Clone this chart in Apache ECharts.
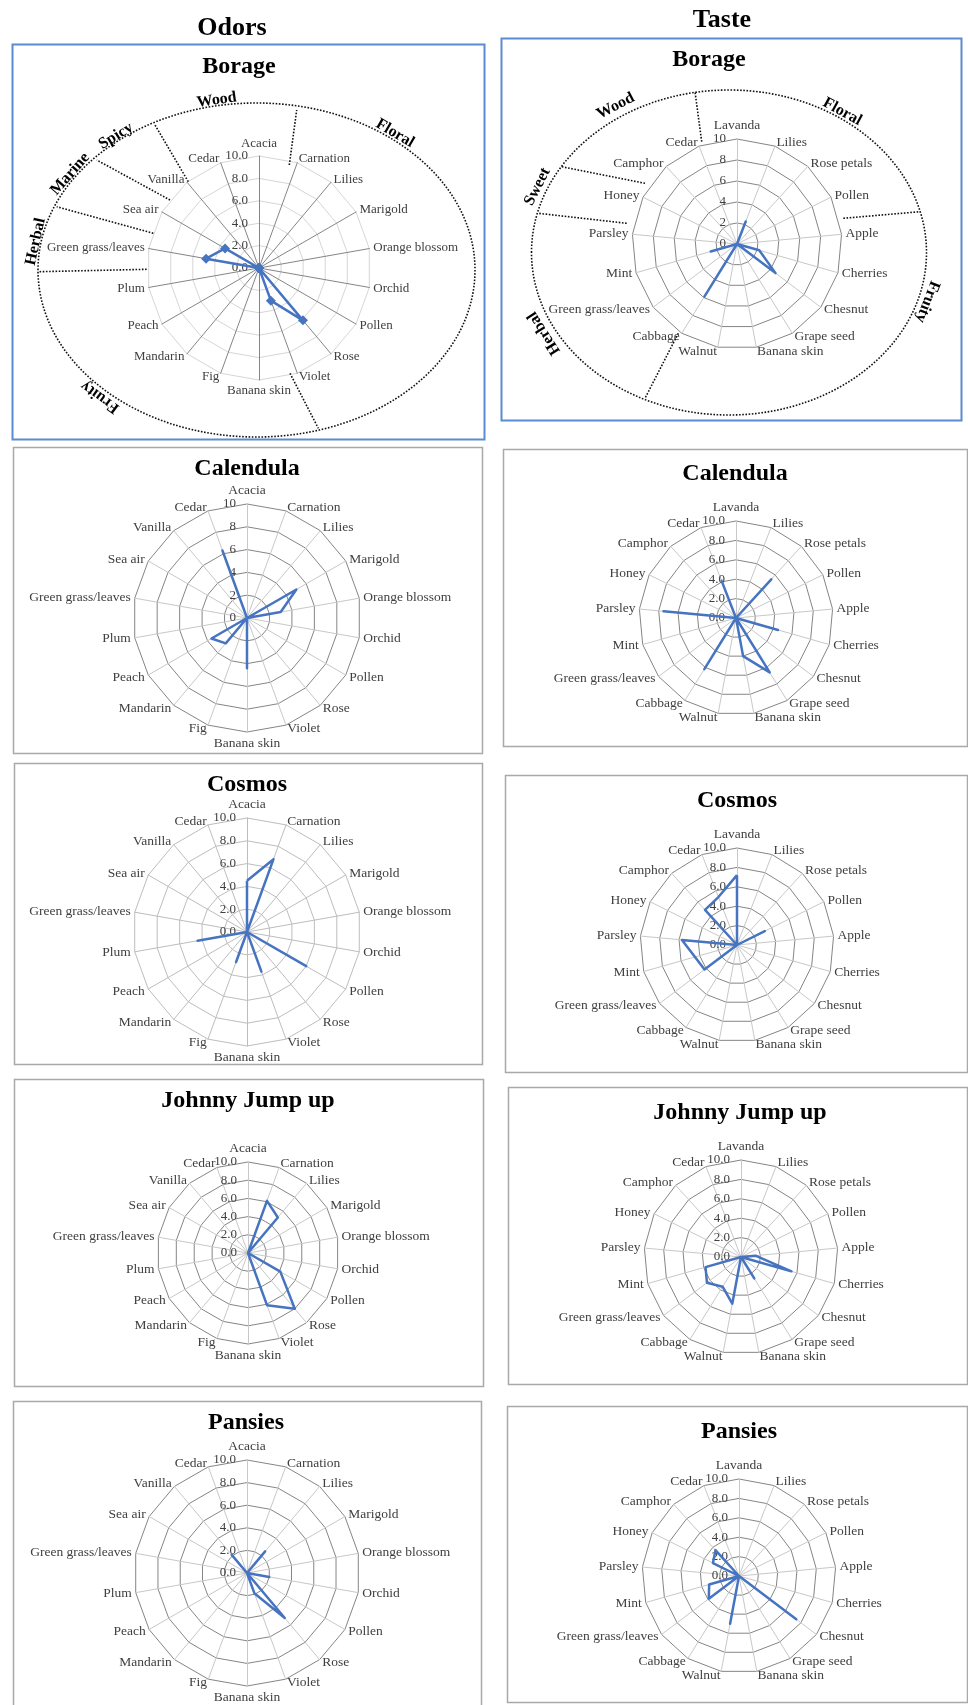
<!DOCTYPE html>
<html>
<head>
<meta charset="utf-8">
<title>Odors and Taste profiles of edible flowers</title>
<script src="https://cdn.jsdelivr.net/npm/echarts@6/dist/echarts.min.js"></script>
<style>
  html, body { margin: 0; padding: 0; background: #ffffff; }
  #chart { width: 968px; height: 1705px; }
</style>
</head>
<body>
<div id="chart"></div>
<script>
// ---- Descriptors (clockwise from the top) ----
const odorCategories = ['Acacia', 'Carnation', 'Lilies', 'Marigold', 'Orange blossom', 'Orchid',
  'Pollen', 'Rose', 'Violet', 'Banana skin', 'Fig', 'Mandarin', 'Peach', 'Plum',
  'Green grass/leaves', 'Sea air', 'Vanilla', 'Cedar'];
const tasteCategories = ['Lavanda', 'Lilies', 'Rose petals', 'Pollen', 'Apple', 'Cherries',
  'Chesnut', 'Grape seed', 'Banana skin', 'Walnut', 'Cabbage', 'Green grass/leaves',
  'Mint', 'Parsley', 'Honey', 'Camphor', 'Cedar'];

// ---- Scale labels (0 to 10, step 2) ----
const ticksOneDecimal = ['0.0', '2.0', '4.0', '6.0', '8.0', '10.0'];
const ticksWhole = ['0', '2', '4', '6', '8', '10'];

// ---- Odor intensity scores ----
const borageOdors    = [0, 0, 0, 0, 0, 0, 0, 6.1, 3.1, 0, 0, 0, 0, 0, 4.8, 3.5, 0, 0];
const calendulaOdors = [0, 0, 0, 5.0, 3.0, 0, 0, 0, 0, 4.4, 0, 2.9, 3.6, 0, 0, 0, 0, 6.3];
const cosmosOdors    = [4.5, 6.8, 0, 0, 0, 0, 6.0, 0, 3.7, 0, 2.8, 0, 0, 4.4, 0, 0, 0, 0];
const johnnyOdors    = [0, 6.1, 5.1, 0, 0, 0, 4.1, 8.0, 6.1, 0, 0, 0, 0, 0, 0, 0, 0, 0];
const pansiesOdors   = [0, 0, 2.5, 0, 0, 2.0, 0, 5.2, 1.9, 0, 0, 0, 0, 0, 0, 0, 2.1, 0];

// ---- Taste intensity scores ----
const borageTaste    = [0, 2.3, 0, 0, 0, 2.2, 4.6, 0, 0, 0, 5.9, 0, 2.6, 0, 0, 0, 0];
const calendulaTaste = [0, 0, 5.4, 0, 0, 4.5, 0, 6.6, 4.0, 0, 6.2, 0, 0, 7.5, 0, 0, 4.1];
const cosmosTaste    = [7.2, 0, 0, 3.2, 0, 0, 0, 0, 0, 0, 0, 4.2, 4.5, 5.7, 0, 4.9, 5.3];
const johnnyTaste    = [0, 0, 0, 0, 1.5, 5.4, 0, 2.6, 0, 4.9, 3.6, 4.4, 3.8, 0, 0, 0, 0];
const pansiesTaste   = [0, 0, 0, 0, 0, 0, 7.4, 0, 0, 5.0, 0, 3.9, 3.2, 0, 3.0, 3.6, 0];

// ---- Family groupings drawn round the two Borage panels ----
const odorFamilies  = ['Wood', 'Floral', 'Spicy', 'Marine', 'Herbal', 'Fruity'];
const tasteFamilies = ['Wood', 'Floral', 'Sweet', 'Herbal', 'Fruity'];

// ---- Styling ----
const SERIF = '"Liberation Serif", "Times New Roman", serif';
const LINE_BLUE = '#4674C0';
const DARK = '#858585';
const LIGHT = '#c8c8c8';
const FRAME_GREY = '#a9a9a9';
const FRAME_BLUE = '#5b8bd0';

// Panel layout: frame [x, y, w, h], title anchor, radar centre and radius
const panels = [
  { name: 'Borage', axes: odorCategories, values: borageOdors, ticks: ticksOneDecimal,
    frame: [12, 44, 472, 395], frameColor: FRAME_BLUE, frameWidth: 2, titleAt: [239, 67],
    center: [259, 268], r: 112, ring: '#d6d6d6', spoke: DARK, symbol: 'diamond', labelSize: 13 },
  { name: 'Borage', axes: tasteCategories, values: borageTaste, ticks: ticksWhole,
    frame: [501, 38, 460, 382], frameColor: FRAME_BLUE, frameWidth: 2, titleAt: [709, 60],
    center: [737, 244], r: 105, ring: DARK, spoke: LIGHT },
  { name: 'Calendula', axes: odorCategories, values: calendulaOdors, ticks: ticksWhole,
    frame: [13, 447, 469, 306], titleAt: [247, 469],
    center: [247, 618], r: 114, ring: DARK, spoke: LIGHT },
  { name: 'Calendula', axes: tasteCategories, values: calendulaTaste, ticks: ticksOneDecimal,
    frame: [503, 449, 464, 297], titleAt: [735, 474],
    center: [736, 618], r: 97, ring: DARK, spoke: LIGHT },
  { name: 'Cosmos', axes: odorCategories, values: cosmosOdors, ticks: ticksOneDecimal,
    frame: [14, 763, 468, 301], titleAt: [247, 785],
    center: [247, 932], r: 114, ring: '#bdbdbd', spoke: '#bdbdbd' },
  { name: 'Cosmos', axes: tasteCategories, values: cosmosTaste, ticks: ticksOneDecimal,
    frame: [505, 775, 462, 297], titleAt: [737, 801],
    center: [737, 945], r: 97, ring: DARK, spoke: LIGHT },
  { name: 'Johnny Jump up', axes: odorCategories, values: johnnyOdors, ticks: ticksOneDecimal,
    frame: [14, 1079, 469, 307], titleAt: [248, 1101],
    center: [248, 1253], r: 91, ring: DARK, spoke: LIGHT },
  { name: 'Johnny Jump up', axes: tasteCategories, values: johnnyTaste, ticks: ticksOneDecimal,
    frame: [508, 1087, 459, 297], titleAt: [740, 1113],
    center: [741, 1257], r: 97, ring: DARK, spoke: LIGHT },
  { name: 'Pansies', axes: odorCategories, values: pansiesOdors, ticks: ticksOneDecimal,
    frame: [13, 1401, 468, 306], titleAt: [246, 1423],
    center: [247, 1573], r: 113, ring: DARK, spoke: LIGHT },
  { name: 'Pansies', axes: tasteCategories, values: pansiesTaste, ticks: ticksOneDecimal,
    frame: [507, 1406, 460, 296], titleAt: [739, 1432],
    center: [739, 1576], r: 97, ring: DARK, spoke: LIGHT }
];

// ECharts places radar indicators counter-clockwise; keep the first one at the
// top and reverse the rest so the descriptors run clockwise.
const clockwise = arr => [arr[0], ...arr.slice(1).reverse()];

const radars = panels.map(p => ({
  center: p.center,
  radius: p.r,
  startAngle: 90,
  splitNumber: 5,
  shape: 'polygon',
  indicator: clockwise(p.axes).map((name, k) => {
    const ind = { name: name, min: 0, max: 10 };
    if (k === 0) {
      // value scale printed along the first (top) spoke only
      ind.axisLabel = {
        show: true,
        margin: 11,
        color: '#404040',
        fontFamily: SERIF,
        fontSize: 13,
        formatter: v => p.ticks[Math.round(v / 2)]
      };
    }
    return ind;
  }),
  axisName: { color: '#404040', fontFamily: SERIF, fontSize: p.labelSize || 13.5 },
  axisNameGap: 4,
  axisLine: { lineStyle: { color: p.spoke, width: 1 } },
  splitLine: { lineStyle: { color: p.ring, width: 1 } },
  splitArea: { show: false },
  axisTick: { show: false },
  axisLabel: { show: false }
}));

const series = panels.map((p, i) => ({
  type: 'radar',
  radarIndex: i,
  silent: true,
  symbol: p.symbol || 'none',
  symbolSize: 10,
  lineStyle: { color: LINE_BLUE, width: 2.5 },
  itemStyle: { color: LINE_BLUE },
  data: [{ name: p.name, value: clockwise(p.values) }]
}));

// ---- Frames and titles ----
const graphics = [];
panels.forEach(p => {
  graphics.push({
    type: 'rect', silent: true, z: 0,
    shape: { x: p.frame[0] + 0.5, y: p.frame[1] + 0.5, width: p.frame[2], height: p.frame[3] },
    style: { fill: 'none', stroke: p.frameColor || FRAME_GREY, lineWidth: p.frameWidth || 1.5 }
  });
  graphics.push({
    type: 'text', silent: true, z: 10,
    x: p.titleAt[0], y: p.titleAt[1],
    style: { text: p.name, fill: '#000', font: 'bold 24px ' + SERIF, align: 'center', verticalAlign: 'middle' }
  });
});
graphics.push(
  { type: 'text', silent: true, x: 232, y: 28,
    style: { text: 'Odors', fill: '#000', font: 'bold 26px ' + SERIF, align: 'center', verticalAlign: 'middle' } },
  { type: 'text', silent: true, x: 722, y: 20,
    style: { text: 'Taste', fill: '#000', font: 'bold 26px ' + SERIF, align: 'center', verticalAlign: 'middle' } }
);

// ---- Family ellipses, dividers and labels round the Borage panels ----
const dotted = { fill: 'none', stroke: '#111', lineWidth: 1.6, lineDash: [1.6, 1.6] };
function addFamilyRing(ring, dividers, labels, names) {
  graphics.push({ type: 'ellipse', silent: true, z: 5,
    shape: { cx: ring[0], cy: ring[1], rx: ring[2], ry: ring[3] }, style: dotted });
  dividers.forEach(d => graphics.push({ type: 'line', silent: true, z: 5,
    shape: { x1: d[0], y1: d[1], x2: d[2], y2: d[3] }, style: dotted }));
  labels.forEach((l, i) => graphics.push({ type: 'text', silent: true, z: 6,
    x: l[0], y: l[1], rotation: l[2],
    style: { text: names[i], fill: '#000', font: 'bold 16px ' + SERIF, align: 'center', verticalAlign: 'middle' } }));
}
addFamilyRing(
  [256.5, 270, 218.5, 167],
  [[289.3, 165, 296.7, 110], [188.3, 181.7, 155, 125], [170, 200, 96.7, 160],
   [153.3, 233.3, 56.7, 206.7], [146.7, 269.3, 39.3, 271.7], [290, 373.3, 318.3, 428.3]],
  [[216.7, 100, 0.14], [395, 133.3, -0.53], [116, 136, 0.55], [70, 174, 0.85],
   [35.7, 241.7, 1.35], [100, 397, 2.51]],
  odorFamilies
);
addFamilyRing(
  [729, 252.5, 197.5, 162.5],
  [[701.7, 141.7, 695, 91.7], [645, 183.3, 561.7, 166.7], [626.7, 223.3, 538.3, 213.3],
   [678.3, 333.3, 645, 398.3], [843.3, 218.3, 920, 211.7]],
  [[615.7, 106, 0.48], [842.3, 111.7, -0.5], [537.3, 186.7, 1.1], [544, 333.3, 2.14],
   [927.3, 301.7, -1.94]],
  tasteFamilies
);

const chart = echarts.init(document.getElementById('chart'), null, { renderer: 'canvas' });
chart.setOption({
  animation: false,
  backgroundColor: '#ffffff',
  radar: radars,
  series: series,
  graphic: graphics
});
</script>
</body>
</html>
